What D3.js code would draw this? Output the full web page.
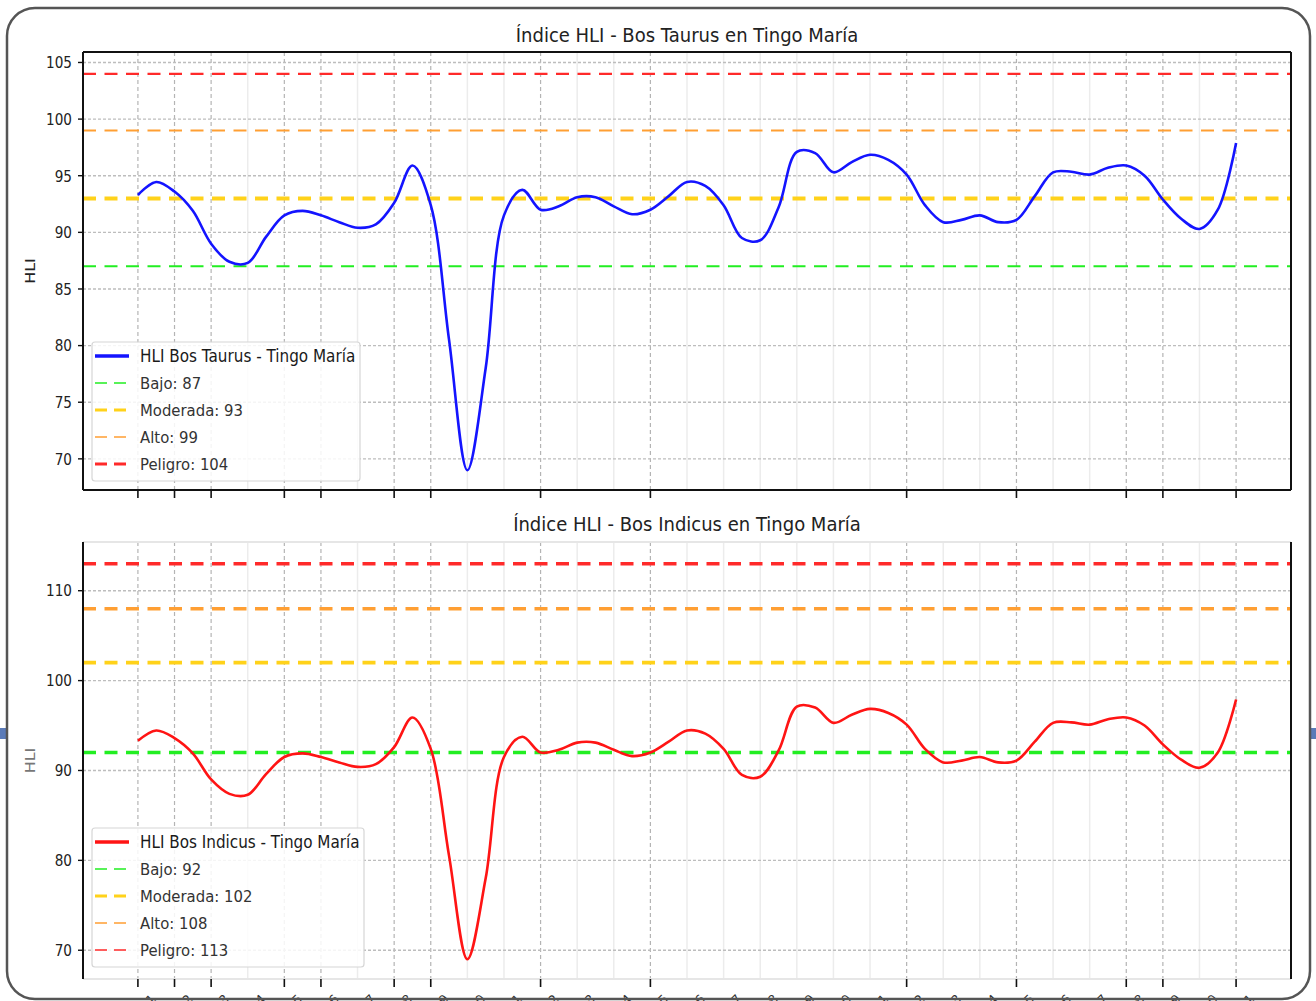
<!DOCTYPE html>
<html><head><meta charset="utf-8">
<script src="https://cdn.jsdelivr.net/npm/d3@7"></script>
<style>
body{margin:0;background:#fff}
svg{display:block}
text{font-family:"DejaVu Sans",sans-serif}
</style>
</head><body>
<svg id="chart" width="1316" height="1001"></svg>
<script>
// ---------- data ----------
const dayLabels = ["2024-01-01","2024-01-02","2024-01-03","2024-01-04","2024-01-05","2024-01-06","2024-01-07","2024-01-08","2024-01-09","2024-01-10","2024-01-11","2024-01-12","2024-01-13","2024-01-14","2024-01-15","2024-01-16","2024-01-17","2024-01-18","2024-01-19","2024-01-20","2024-01-21","2024-01-22","2024-01-23","2024-01-24","2024-01-25","2024-01-26","2024-01-27","2024-01-28","2024-01-29","2024-01-30","2024-01-31"];
// curve read every half day (day index 0 .. 30)
const sampleDay = [0,0.5,1,1.5,2,2.5,3,3.5,4,4.5,5,5.5,6,6.5,7,7.5,8,8.5,9,9.5,10,10.5,11,11.5,12,12.5,13,13.5,14,14.5,15,15.5,16,16.5,17,17.5,18,18.5,19,19.5,20,20.5,21,21.5,22,22.5,23,23.5,24,24.5,25,25.5,26,26.5,27,27.5,28,28.5,29,29.5,30];
const hliValues = [93.3,94.45,93.6,91.9,89.0,87.4,87.3,89.6,91.5,91.9,91.5,90.9,90.4,90.7,92.6,95.9,92.4,80.5,69.0,78.0,91.5,93.75,92.0,92.3,93.1,93.1,92.3,91.6,92.0,93.2,94.45,94.1,92.4,89.5,89.3,92.2,97.1,97.0,95.3,96.2,96.85,96.4,95.1,92.4,90.9,91.1,91.5,90.9,91.1,93.2,95.3,95.35,95.1,95.7,95.9,95.0,92.9,91.2,90.3,92.0,97.9];
const thresholdNames = ["Bajo","Moderada","Alto","Peligro"];
const taurusThresholds = [87,93,99,104];
const indicusThresholds = [92,102,108,113];
const topTicks = [70,75,80,85,90,95,100,105];
const bottomTicks = [70,80,90,100,110];
const strongTickDays = [0,1,2,4,5,7,8,11,14,21,24,27,28,30];

// ---------- layout / style ----------
const thrColors = ["#22ee22","#ffd21a","#ff9f33","#ff2a2a"];
const svg = d3.select("#chart");
const X0 = 83, X1 = 1291;
const x = d3.scaleLinear().domain([-1.5, 31.5]).range([X0, X1]);

function txt(g, px, py, s, opts) {
  const sx = opts.sx || 0.85;
  const t = g.append("text")
    .attr("transform", `translate(${px},${py}) scale(${sx},1)` + (opts.rotate ? ` rotate(${opts.rotate})` : ""))
    .attr("font-size", opts.size)
    .attr("fill", opts.fill || "#222")
    .attr("text-anchor", opts.anchor || "start")
    .text(s);
  if (opts.weight) t.attr("font-weight", opts.weight);
  if (opts.dy) t.attr("dy", opts.dy);
  return t;
}

const panels = [
  {top:52, bottom:490, title:"Índice HLI - Bos Taurus en Tingo María", titleY:42,
   seriesName:"HLI Bos Taurus - Tingo María", color:"#1414ff", thresholds:taurusThresholds, ticks:topTicks,
   thrWidths:[2,4,2,2.2], legWidths:[1.6,3.2,1.6,3.2], spineTB:"#111", ylabFill:"#222", legTop:342, legW:268, showXLabels:false},
  {top:542, bottom:979, title:"Índice HLI - Bos Indicus en Tingo María", titleY:531,
   seriesName:"HLI Bos Indicus - Tingo María", color:"#ff1414", thresholds:indicusThresholds, ticks:bottomTicks,
   thrWidths:[3.6,3.6,3.6,3.6], legWidths:[1.6,3.2,1.6,1.6], spineTB:"#e6e6e6", ylabFill:"#777", legTop:828, legW:272, showXLabels:true}
];

panels.forEach((p, pi) => {
  const g = svg.append("g");
  const all = hliValues.concat(p.thresholds);
  const lo = d3.min(all), hi = d3.max(all), pad = (hi - lo) * 0.05;
  const y = d3.scaleLinear().domain([lo - pad, hi + pad * 1.1]).range([p.bottom, p.top]);

  // faint vertical grid
  g.append("g").selectAll("line").data(d3.range(dayLabels.length).filter(i => !strongTickDays.includes(i)))
    .join("line").attr("x1", d => x(d)).attr("x2", d => x(d)).attr("y1", p.top).attr("y2", p.bottom)
    .attr("stroke", "#ececec").attr("stroke-width", 1.5);
  // strong vertical grid
  g.append("g").selectAll("line").data(strongTickDays)
    .join("line").attr("x1", d => x(d)).attr("x2", d => x(d)).attr("y1", p.top).attr("y2", p.bottom)
    .attr("stroke", "#b4b4b4").attr("stroke-width", 1.2).attr("stroke-dasharray", "4,3");
  // horizontal grid
  g.append("g").selectAll("line").data(p.ticks)
    .join("line").attr("x1", X0).attr("x2", X1).attr("y1", d => y(d)).attr("y2", d => y(d))
    .attr("stroke", "#bdbdbd").attr("stroke-width", 1.4).attr("stroke-dasharray", "3,2");

  // thresholds
  p.thresholds.forEach((t, i) => {
    g.append("line").attr("x1", X0).attr("x2", X1).attr("y1", y(t)).attr("y2", y(t))
      .attr("stroke", thrColors[i]).attr("stroke-width", p.thrWidths[i]).attr("stroke-dasharray", "13,8.5");
  });

  // series
  const line = d3.line().x((d, i) => x(sampleDay[i])).y(d => y(d)).curve(d3.curveCatmullRom.alpha(0.5));
  g.append("path").datum(hliValues).attr("d", line).attr("fill", "none")
    .attr("stroke", p.color).attr("stroke-width", 2.6).attr("stroke-linejoin", "round");

  // spines
  g.append("line").attr("x1", X0).attr("x2", X1).attr("y1", p.top).attr("y2", p.top).attr("stroke", p.spineTB).attr("stroke-width", 2);
  g.append("line").attr("x1", X0).attr("x2", X1).attr("y1", p.bottom).attr("y2", p.bottom).attr("stroke", p.spineTB).attr("stroke-width", 2);
  g.append("line").attr("x1", X0).attr("x2", X0).attr("y1", p.top).attr("y2", p.bottom).attr("stroke", "#111").attr("stroke-width", 2);
  g.append("line").attr("x1", X1).attr("x2", X1).attr("y1", p.top).attr("y2", p.bottom).attr("stroke", "#111").attr("stroke-width", 2);

  // y axis ticks + labels
  p.ticks.forEach(t => {
    g.append("line").attr("x1", X0 - 5).attr("x2", X0).attr("y1", y(t)).attr("y2", y(t)).attr("stroke", "#111").attr("stroke-width", 1.4);
    txt(g, 72, y(t), String(t), {size:16, anchor:"end", dy:"0.36em", fill:"#222"});
  });
  txt(g, 35, (p.top + p.bottom) / 2, "HLI", {size:16, anchor:"middle", rotate:-90, fill:p.ylabFill});

  // x ticks
  strongTickDays.forEach(d => {
    g.append("line").attr("x1", x(d)).attr("x2", x(d)).attr("y1", p.bottom).attr("y2", p.bottom + 8).attr("stroke", "#111").attr("stroke-width", 1.6);
  });
  if (p.showXLabels) {
    dayLabels.forEach((lab, i) => {
      g.append("text").attr("transform", `translate(${x(i) + 19},${p.bottom + 21}) rotate(-45)`)
        .attr("font-size", 13).attr("text-anchor", "end").attr("fill", "#333").text(lab);
    });
  }

  // title
  txt(g, (X0 + X1) / 2, p.titleY, p.title, {size:20, sx:0.9, anchor:"middle", fill:"#222"});

  // legend
  const lg = g.append("g");
  lg.append("rect").attr("x", 92).attr("y", p.legTop).attr("width", p.legW).attr("height", 139).attr("rx", 3)
    .attr("fill", "#fff").attr("fill-opacity", 0.85).attr("stroke", "#d6d6d6").attr("stroke-width", 1.2);
  const entries = [{label:p.seriesName, color:p.color, w:3.6, dash:null, size:17.5, sx:0.87, fill:"#1a1a1a"}]
    .concat(p.thresholds.map((t, i) => ({label:`${thresholdNames[i]}: ${t}`, color:thrColors[i], w:p.legWidths[i], dash:"12,7", size:16, sx:0.93, fill:"#333"})));
  entries.forEach((e, i) => {
    const ry = p.legTop + 14 + i * 27;
    lg.append("line").attr("x1", 95).attr("x2", 129).attr("y1", ry).attr("y2", ry)
      .attr("stroke", e.color).attr("stroke-width", e.w).attr("stroke-dasharray", e.dash);
    txt(lg, 140, ry, e.label, {size:e.size, sx:e.sx, dy:"0.36em", fill:e.fill});
  });
});

// side tabs and frame
svg.append("rect").attr("x", 0).attr("y", 728).attr("width", 6).attr("height", 11).attr("fill", "#5b7bb8");
svg.append("rect").attr("x", 1310).attr("y", 728).attr("width", 6).attr("height", 11).attr("fill", "#5b7bb8");
svg.append("rect").attr("x", 7).attr("y", 8).attr("width", 1303).attr("height", 991).attr("rx", 28)
  .attr("fill", "none").attr("stroke", "#555").attr("stroke-width", 2.5);
</script>
</body></html>
